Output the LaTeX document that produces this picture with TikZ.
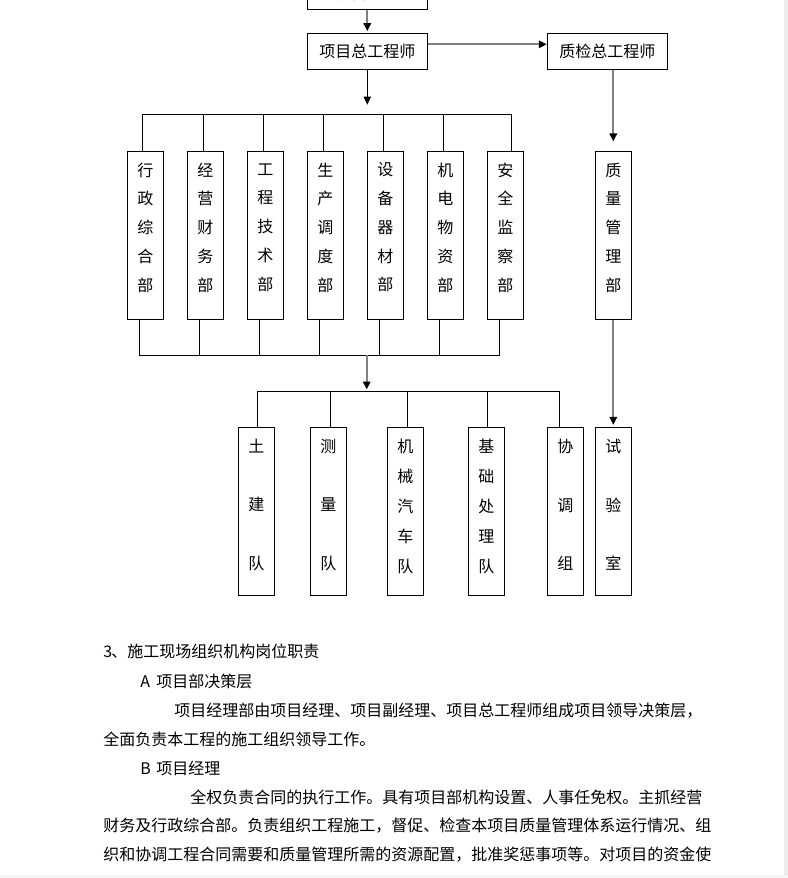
\documentclass[tikz,border=0pt]{standalone}
\usepackage{fontspec}
\setmainfont{Noto Sans CJK SC}
\usetikzlibrary{arrows.meta,calc}
\definecolor{lgray}{HTML}{808080}
\begin{document}
\begin{tikzpicture}[x=0.75pt,y=-0.75pt,
  box/.style={draw=black,line width=0.75pt,inner sep=0pt,fill=white},
  hbox/.style={box,minimum width=90pt,minimum height=27pt,font=\fontsize{12pt}{14pt}\selectfont},
  vbox/.style={box,minimum width=27pt,minimum height=126pt},
  lbox/.style={box,minimum width=27pt,minimum height=125.75pt},
  vtext/.style={inner sep=0pt,align=center,font=\fontsize{12pt}{21.56pt}\selectfont},
  vtextB/.style={inner sep=0pt,align=center,font=\fontsize{12pt}{22.5pt}\selectfont},
  vtextC/.style={inner sep=0pt,align=center,font=\fontsize{12pt}{43.65pt}\selectfont},
  bline/.style={draw=black,line width=0.75pt},
  gline/.style={draw=lgray,line width=1.5pt},
  arr/.style={-{Triangle[length=6pt,width=5.5pt,color=black,fill=black]}},
  bodytext/.style={anchor=west,inner sep=0pt,font=\fontsize{12pt}{14pt}\selectfont}
]
\fill[white] (0,0) rectangle (788,878);
\useasboundingbox (0,0) rectangle (788,878);
\fill[gray!15] (784,0) rectangle (788,878);
\fill[gray!8] (0,875) rectangle (788,878);

% top row
\node[hbox] (pm) at (367.3,-8.7) {};
\node[inner sep=0pt,font=\fontsize{12pt}{14pt}\selectfont] (pmt) at (367.3,-7) {项目经理};
\node[hbox] (ce) at (367.3,51.3) {项目总工程师};
\node[hbox] (qc) at (607.3,51.3) {质检总工程师};

% upper departments
\node[vbox] (d1) at (145.3,235.3) {};
\node[vbox] (d2) at (205.3,235.3) {};
\node[vbox] (d3) at (265.3,235.3) {};
\node[vbox] (d4) at (325.3,235.3) {};
\node[vbox] (d5) at (385.3,235.3) {};
\node[vbox] (d6) at (445.3,235.3) {};
\node[vbox] (d7) at (505.3,235.3) {};
\node[vbox] (qm) at (613.3,235.3) {};
\node[vtext] (d1t) at (145.3,227.5) {行\\政\\综\\合\\部};
\node[vtext] (d2t) at (205.3,227.5) {经\\营\\财\\务\\部};
\node[vtext] (d3t) at (265.3,227.5) {工\\程\\技\\术\\部};
\node[vtext] (d4t) at (325.3,227.5) {生\\产\\调\\度\\部};
\node[vtext] (d5t) at (385.3,227.5) {设\\备\\器\\材\\部};
\node[vtext] (d6t) at (445.3,227.5) {机\\电\\物\\资\\部};
\node[vtext] (d7t) at (505.3,227.5) {安\\全\\监\\察\\部};
\node[vtext] (qmt) at (613.3,227.5) {质\\量\\管\\理\\部};

% lower teams
\node[lbox] (l1) at (256.3,511.2) {};
\node[lbox] (l2) at (328.3,511.2) {};
\node[lbox] (l3) at (405.3,511.2) {};
\node[lbox] (l4) at (486.3,511.2) {};
\node[lbox] (l5) at (565.3,511.2) {};
\node[lbox] (ts) at (613.3,511.2) {};
\node[vtextC] (l1t) at (256.3,504.9) {土\\建\\队};
\node[vtextC] (l2t) at (328.3,504.9) {测\\量\\队};
\node[vtextB] (l3t) at (405.3,506.7) {机\\械\\汽\\车\\队};
\node[vtextB] (l4t) at (486.3,506.7) {基\\础\\处\\理\\队};
\node[vtextC] (l5t) at (565.3,504.9) {协\\调\\组};
\node[vtextC] (tst) at (613.3,504.9) {试\\验\\室};

% connectors
\coordinate (busA) at (367.3,104.7);
\coordinate (tb) at (0,114.3);
\coordinate (bb) at (0,355);
\coordinate (lb) at (0,391);
\coordinate (mA) at (366.7,355);
\coordinate (mB) at (366.7,389.5);

\draw[gline,arr,shorten >=1.2pt] (pm.south) -- (ce.north);
\draw[bline,arr] (ce.south) -- (busA);
\draw[gline,arr] ([yshift=5.25pt]ce.east) -- ([yshift=5.25pt]qc.west);
\draw[gline,arr,shorten >=7pt] (qc.south -| qm.north) -- (qm.north);
\draw[gline,arr,shorten >=1.5pt] (qm.south) -- (ts.north);

% top bus
\draw[bline] ([xshift=-1.95pt]d1.north) -- ([xshift=-1.95pt]d1.north |- tb) -- ([xshift=4.3pt]d7.north |- tb) -- ([xshift=4.3pt]d7.north);
\foreach \n in {d2,d3,d4,d5,d6}
  \draw[bline] ([xshift=-1.5pt]\n.north) -- ([xshift=-1.5pt]\n.north |- tb);

% bottom bus
\draw[bline] ([xshift=-4.5pt]d1.south) -- ([xshift=-4.5pt]d1.south |- bb) -- ([xshift=-4.5pt]d7.south |- bb) -- ([xshift=-4.5pt]d7.south);
\foreach \n in {d2,d3,d4,d5,d6}
  \draw[bline] ([xshift=-4.5pt]\n.south) -- ([xshift=-4.5pt]\n.south |- bb);

\draw[gline,arr] (mA) -- (mB);

% lower bus
\draw[bline] ([xshift=0.75pt]l1.north) -- ([xshift=0.75pt]l1.north |- lb) -- ([xshift=-4.5pt]l5.north |- lb) -- ([xshift=-4.5pt]l5.north);
\draw[bline] ([xshift=1.5pt]l2.north) -- ([xshift=1.5pt]l2.north |- lb);
\draw[bline] ([xshift=1.5pt]l3.north) -- ([xshift=1.5pt]l3.north |- lb);
\draw[bline] ([xshift=0.75pt]l4.north) -- ([xshift=0.75pt]l4.north |- lb);

% body text
\node[bodytext] (p1) at (103,651.5) {\makebox[6pt][l]{3}、施工现场组织机构岗位职责};
\node[bodytext] (p2) at (140,681.5) {\makebox[12pt][l]{A}项目部决策层};
\node[bodytext] (p3) at (174,710.5) {项目经理部由项目经理、项目副经理、项目总工程师组成项目领导决策层，};
\node[bodytext] (p4) at (103,739.5) {全面负责本工程的施工组织领导工作。};
\node[bodytext] (p5) at (140,768) {\makebox[12pt][l]{B}项目经理};
\node[bodytext] (p6) at (190,797) {全权负责合同的执行工作。具有项目部机构设置、人事任免权。主抓经营};
\node[bodytext] (p7) at (103,826) {财务及行政综合部。负责组织工程施工，督促、检查本项目质量管理体系运行情况、组};
\node[bodytext] (p8) at (103,855) {织和协调工程合同需要和质量管理所需的资源配置，批准奖惩事项等。对项目的资金使};
\end{tikzpicture}
\end{document}
